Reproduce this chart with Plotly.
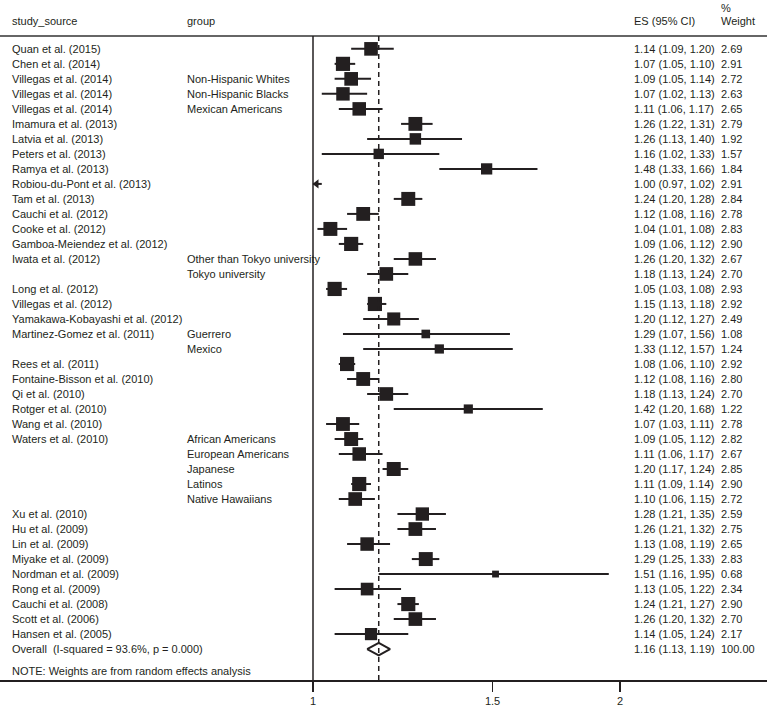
import math
import plotly.graph_objects as go

studies = ["Quan et al. (2015)", "Chen et al. (2014)", "Villegas et al. (2014)", "Villegas et al. (2014)",
           "Villegas et al. (2014)", "Imamura et al. (2013)", "Latvia et al. (2013)", "Peters et al. (2013)",
           "Ramya et al. (2013)", "Robiou-du-Pont et al. (2013)", "Tam et al. (2013)", "Cauchi et al. (2012)",
           "Cooke et al. (2012)", "Gamboa-Meiendez et al. (2012)", "Iwata et al. (2012)", "",
           "Long et al. (2012)", "Villegas et al. (2012)", "Yamakawa-Kobayashi et al. (2012)",
           "Martinez-Gomez et al. (2011)", "", "Rees et al. (2011)", "Fontaine-Bisson et al. (2010)",
           "Qi et al. (2010)", "Rotger et al. (2010)", "Wang et al. (2010)", "Waters et al. (2010)", "", "", "", "",
           "Xu et al. (2010)", "Hu et al. (2009)", "Lin et al. (2009)", "Miyake et al. (2009)",
           "Nordman et al. (2009)", "Rong et al. (2009)", "Cauchi et al. (2008)", "Scott et al. (2006)",
           "Hansen et al. (2005)"]
groups = ["", "", "Non-Hispanic Whites", "Non-Hispanic Blacks", "Mexican Americans", "", "", "", "", "", "", "",
          "", "", "Other than Tokyo university", "Tokyo university", "", "", "", "Guerrero", "Mexico", "", "",
          "", "", "", "African Americans", "European Americans", "Japanese", "Latinos", "Native Hawaiians",
          "", "", "", "", "", "", "", "", ""]
es = [1.14, 1.07, 1.09, 1.07, 1.11, 1.26, 1.26, 1.16, 1.48, 1.00, 1.24, 1.12, 1.04, 1.09, 1.26, 1.18, 1.05,
      1.15, 1.20, 1.29, 1.33, 1.08, 1.12, 1.18, 1.42, 1.07, 1.09, 1.11, 1.20, 1.11, 1.10, 1.28, 1.26, 1.13,
      1.29, 1.51, 1.13, 1.24, 1.26, 1.14]
lo = [1.09, 1.05, 1.05, 1.02, 1.06, 1.22, 1.13, 1.02, 1.33, 0.97, 1.20, 1.08, 1.01, 1.06, 1.20, 1.13, 1.03,
      1.13, 1.12, 1.07, 1.12, 1.06, 1.08, 1.13, 1.20, 1.03, 1.05, 1.06, 1.17, 1.09, 1.06, 1.21, 1.21, 1.08,
      1.25, 1.16, 1.05, 1.21, 1.20, 1.05]
hi = [1.20, 1.10, 1.14, 1.13, 1.17, 1.31, 1.40, 1.33, 1.66, 1.02, 1.28, 1.16, 1.08, 1.12, 1.32, 1.24, 1.08,
      1.18, 1.27, 1.56, 1.57, 1.10, 1.16, 1.24, 1.68, 1.11, 1.12, 1.17, 1.24, 1.14, 1.15, 1.35, 1.32, 1.19,
      1.33, 1.95, 1.22, 1.27, 1.32, 1.24]
weights = [2.69, 2.91, 2.72, 2.63, 2.65, 2.79, 1.92, 1.57, 1.84, 2.91, 2.84, 2.78, 2.83, 2.90, 2.67, 2.70,
           2.93, 2.92, 2.49, 1.08, 1.24, 2.92, 2.80, 2.70, 1.22, 2.78, 2.82, 2.67, 2.85, 2.90, 2.72, 2.59,
           2.75, 2.65, 2.83, 0.68, 2.34, 2.90, 2.70, 2.17]
overall_label = "Overall  (I-squared = 93.6%, p = 0.000)"
overall_es, overall_lo, overall_hi, overall_w = 1.16, 1.13, 1.19, 100.00
headers = ["study_source", "group", "ES (95% CI)", "%", "Weight"]
note = "NOTE: Weights are from random effects analysis"
tick_vals = [1, 1.5, 2]
tick_text = ["1", "1.5", "2"]

XMIN = 1.0
W, H = 767, 707
INK = "#231F20"
FONT = "Liberation Sans, Arial, Helvetica, sans-serif"

n = len(studies)
rows = list(range(1, n + 1))
overall_row = n + 1

fig = go.Figure()

# CI lines (clipped at the left edge of the scale)
lx, ly = [], []
arrows_x, arrows_y = [], []
for r, l, h in zip(rows, lo, hi):
    lx += [max(l, XMIN), h, None]
    ly += [r, r, None]
    if l < XMIN:
        arrows_x.append(XMIN * 1.008)
        arrows_y.append(r)
fig.add_trace(go.Scatter(x=lx, y=ly, mode="lines", line=dict(color=INK, width=2),
                         hoverinfo="skip", showlegend=False))

# squares (area proportional to weight)
sx = [e for e, l in zip(es, lo) if l >= XMIN]
sy = [r for r, l in zip(rows, lo) if l >= XMIN]
ss = [8.3 * math.sqrt(w) for w, l in zip(weights, lo) if l >= XMIN]
fig.add_trace(go.Scatter(x=sx, y=sy, mode="markers",
                         marker=dict(symbol="square", size=ss, color=INK, opacity=1, line=dict(width=0)),
                         hoverinfo="skip", showlegend=False))
# arrows for off-scale CIs
fig.add_trace(go.Scatter(x=arrows_x, y=arrows_y, mode="markers",
                         marker=dict(symbol="triangle-left", size=8, color=INK, opacity=1, line=dict(width=0)),
                         hoverinfo="skip", showlegend=False))

# overall diamond
dh = 0.42
fig.add_trace(go.Scatter(x=[overall_lo, overall_es, overall_hi, overall_es, overall_lo],
                         y=[overall_row, overall_row - dh, overall_row, overall_row + dh, overall_row],
                         mode="lines", line=dict(color=INK, width=2), hoverinfo="skip", showlegend=False))

y_top_line = 0.136
y_axis_row = 43.06

shapes = [
    dict(type="line", xref="paper", yref="y", x0=0, x1=1, y0=y_top_line, y1=y_top_line,
         line=dict(color="#333333", width=1.5)),
    dict(type="line", xref="x", yref="y", x0=1, x1=1, y0=y_top_line, y1=y_axis_row,
         line=dict(color=INK, width=1.5)),
    dict(type="line", xref="x", yref="y", x0=overall_es, x1=overall_es, y0=y_top_line, y1=y_axis_row,
         line=dict(color=INK, width=1.5, dash="5px,4px")),
]

ann = []
def txt(xpx, yrow, s):
    ann.append(dict(x=xpx / W, y=yrow, xref="paper", yref="y", text=s, showarrow=False,
                    xanchor="left", yanchor="middle", font=dict(family=FONT, size=11, color=INK)))

X_STUDY, X_GROUP, X_ES, X_W = 10, 185, 632, 719
txt(X_STUDY, -0.86, headers[0])
txt(X_GROUP, -0.86, headers[1])
txt(X_ES, -0.86, headers[2])
txt(X_W, -1.72, headers[3])
txt(X_W, -0.86, headers[4])
for r, s, g, e, l, h, w in zip(rows, studies, groups, es, lo, hi, weights):
    if s:
        txt(X_STUDY, r, s)
    if g:
        txt(X_GROUP, r, g)
    txt(X_ES, r, f"{e:.2f} ({l:.2f}, {h:.2f})")
    txt(X_W, r, f"{w:.2f}")
txt(X_STUDY, overall_row, overall_label)
txt(X_ES, overall_row, f"{overall_es:.2f} ({overall_lo:.2f}, {overall_hi:.2f})")
txt(X_W, overall_row, f"{overall_w:.2f}")
txt(X_STUDY, 42.46, note)

px_per_dec = 307 / math.log10(2)
x_range = [-313 / px_per_dec, (W - 313) / px_per_dec]
row_px = 15.05
plot_h = 682
y_range = [1 + (plot_h - 49) / row_px, 1 - 49 / row_px]

fig.update_layout(
    width=W, height=H,
    margin=dict(l=0, r=0, t=0, b=H - plot_h),
    paper_bgcolor="white", plot_bgcolor="white",
    shapes=shapes, annotations=ann,
    hovermode=False,
    xaxis=dict(type="log", range=x_range, tickvals=tick_vals, ticktext=tick_text,
               showgrid=False, zeroline=False, showline=True, linecolor=INK, linewidth=1.5,
               ticks="outside", ticklen=10, tickwidth=1.5, tickcolor=INK,
               tickfont=dict(family=FONT, size=11, color=INK)),
    yaxis=dict(range=y_range, showgrid=False, zeroline=False, showticklabels=False, showline=False),
    font=dict(family=FONT, size=11, color=INK),
)

fig.write_html("out.html", config={"displayModeBar": False, "staticPlot": True},
               post_script="document.body.style.margin='0px';document.body.style.overflow='hidden';")
